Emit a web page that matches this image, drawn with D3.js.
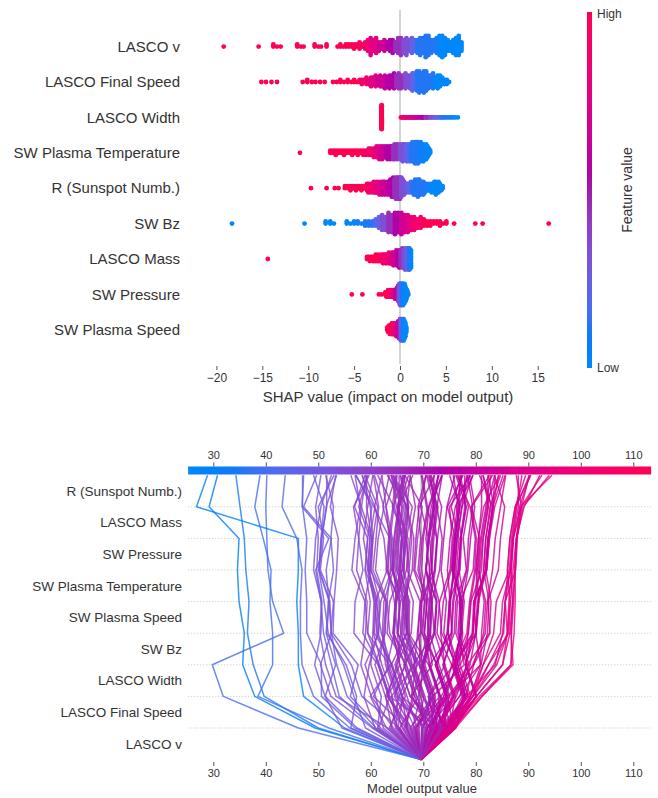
<!DOCTYPE html>
<html><head><meta charset="utf-8">
<script src="https://cdn.jsdelivr.net/npm/d3@7"></script>
<style>
body{margin:0;background:#fff}
svg{display:block}
text{font-family:"Liberation Sans",Arial,sans-serif;fill:#333}
</style>
</head><body>
<svg id="chart" width="658" height="798"></svg>
<script>
// ---------------- DATA: summary (beeswarm) plot ----------------
// each feature: SHAP value, number of dots at that value, feature-value level (0 = low ... 9 = high)
const summaryFeatures = ["LASCO v","LASCO Final Speed","LASCO Width","SW Plasma Temperature","R (Sunspot Numb.)","SW Bz","LASCO Mass","SW Pressure","SW Plasma Speed"];
const summaryTicks = [-20,-15,-10,-5,0,5,10,15];

const shapLascoV = [-19.2,-15.4,-13.8,-13.4,-13.0,-11.2,-10.8,-10.5,-9.3,-8.9,-8.6,-8.0,-6.8,-6.5,-6.2,-5.9,-5.6,
 -5.3,-5.0,-4.7,-4.4,-4.1,-3.8,-3.5,-3.2,-2.9,-2.6,-2.3,-2.0,-1.7,-1.4,-1.1,-0.8,-0.5,-0.2,0.1,0.4,0.7,1.0,1.3,1.6,1.9,2.2,2.5,2.8,3.1,3.4,3.7,4.0,4.3,4.6,4.9,5.2,5.5,5.8,6.1,6.4,6.7];
const countLascoV = [1,1,2,1,1,2,1,1,2,1,1,2,1,2,1,2,2,
 2,3,2,4,2,4,6,9,6,8,5,4,6,4,6,7,5,8,9,7,9,6,8,6,7,9,8,11,10,7,6,8,10,11,9,6,5,7,9,10,5];
const featLascoV = [9,9,9,9,9,9,9,9,9,9,9,9,9,9,9,9,9,
 9,9,8,9,8,8,8,7,7,7,6,6,6,5,5,5,4,4,4,3,3,3,2,2,1,1,1,1,1,1,1,1,0,0,0,0,0,0,0,0,0];

const shapFinalSpeed = [-15.1,-14.6,-14.0,-13.4,-10.6,-10.1,-9.6,-9.2,-8.7,-8.2,-7.3,-6.9,-6.5,-6.1,-5.7,-5.3,-5.0,-4.7,-4.4,
 -4.15,-3.9,-3.65,-3.4,-3.15,-2.9,-2.65,-2.4,-2.15,-1.9,-1.65,-1.4,-1.15,-0.9,-0.65,-0.4,-0.15,0.1,0.35,0.6,
 0.85,1.1,1.35,1.6,1.85,2.1,2.35,2.6,2.85,3.1,3.35,3.6,3.85,4.1,4.35,4.6,4.85,5.1,5.35];
const countFinalSpeed = [1,1,1,1,1,2,1,1,1,1,1,1,2,1,2,1,2,1,2,
 3,2,4,3,5,4,6,4,6,5,7,5,7,6,8,6,8,7,6,8,
 6,7,9,8,10,11,9,11,10,7,6,8,5,7,6,4,3,3,1];
const featFinalSpeed = [9,9,9,9,9,9,9,9,9,9,9,9,9,9,9,9,9,9,9,
 8,8,8,7,7,7,7,6,6,6,6,5,5,5,5,4,4,4,4,3,
 3,3,2,2,1,1,1,1,1,1,1,1,0,0,0,0,0,0,0];

const shapLascoWidth = [-2.0,
 0.1,0.2,0.3,0.4,0.5,0.6,0.7,0.8,0.9,1.0,1.1,1.2,1.3,1.4,1.5,1.6,1.7,1.8,1.9,2.0,
 2.2,2.3,2.4,2.5,2.6,2.8,2.9,3.0,3.1,3.3,3.4,3.5,3.7,3.8,3.9,4.1,4.2,4.4,4.5,4.7,4.8,5.0,5.2,5.4,5.6,5.8,6.0,6.3];
const countLascoWidth = [50,
 1,1,1,1,1,1,1,1,1,1,1,1,1,1,1,1,1,1,1,1,
 1,1,1,1,1,1,1,1,1,1,1,1,1,1,1,1,1,1,1,1,1,1,1,1,1,1,1,1];
const featLascoWidth = [9,
 8,8,8,8,7,8,7,7,7,7,7,7,7,6,7,6,6,6,6,6,
 5,5,5,5,5,4,4,4,4,3,3,3,3,2,2,2,2,2,1,1,1,1,1,0,1,0,0,0];

const shapPlasmaTemp = [-10.9,-7.6,-7.3,-7.0,-6.7,-6.4,-6.1,-5.8,-5.5,-5.2,-4.9,-4.6,-4.3,-4.0,-3.7,-3.4,
 -3.15,-3.0,-2.85,-2.7,-2.55,-2.4,-2.25,-2.1,-1.95,-1.8,-1.65,-1.5,-1.35,-1.2,-1.05,-0.9,-0.75,-0.6,-0.45,-0.3,
 -0.15,0,0.15,0.3,0.45,0.6,0.75,0.9,1.05,1.2,1.35,1.5,1.65,1.8,1.95,2.1,2.25,2.4,2.55,2.7,2.85,3.0,3.15,3.3];
const countPlasmaTemp = [1,2,2,3,2,2,3,2,2,3,2,3,2,3,3,4,
 4,3,5,4,6,5,7,5,7,5,6,5,7,5,7,6,7,8,6,8,
 6,8,7,9,8,7,9,7,9,8,10,9,11,10,11,9,10,8,9,7,8,6,4,2];
const featPlasmaTemp = [9,9,9,9,9,9,9,9,9,9,9,9,9,9,8,8,
 8,8,8,7,7,7,7,6,6,6,6,5,5,5,5,5,4,4,4,4,
 4,3,3,3,3,2,2,2,2,1,1,1,1,1,1,1,0,1,0,1,0,0,0,0];

const shapSunspot = [-9.7,-8.0,-7.1,-6.7,-6.0,-5.7,-5.4,-5.1,-4.8,-4.5,-4.2,-3.9,
 -3.6,-3.45,-3.3,-3.15,-3.0,-2.85,-2.7,-2.55,-2.4,-2.25,-2.1,-1.95,-1.8,-1.65,-1.5,-1.35,-1.2,-1.05,-0.9,-0.75,
 -0.6,-0.45,-0.3,-0.15,0,0.15,0.3,0.45,0.6,0.75,0.9,1.05,1.2,1.35,1.5,1.65,1.8,1.95,2.1,2.25,
 2.4,2.55,2.7,2.85,3.0,3.15,3.3,3.45,3.6,3.75,3.9,4.05,4.2,4.35,4.5,4.65];
const countSunspot = [1,1,1,1,2,2,3,2,3,2,3,2,
 4,5,3,5,4,6,5,6,5,7,5,7,6,7,5,7,6,8,9,10,
 9,11,10,11,11,10,8,7,5,4,5,4,6,5,7,8,7,9,8,7,
 6,7,5,4,3,4,3,5,4,6,7,5,6,4,3,2];
const featSunspot = [9,9,9,9,9,9,9,9,9,9,9,9,
 9,8,8,8,8,8,7,7,7,7,7,6,6,6,6,6,5,5,5,5,
 4,4,4,4,4,3,3,3,3,2,2,2,2,1,1,1,1,1,1,1,
 1,1,1,1,0,1,0,0,0,0,0,0,0,0,0,0];

const shapBz = [-18.3,-10.4,-8.1,-7.6,-7.2,-5.8,-5.4,-5.0,-4.6,-4.2,-3.8,-3.4,
 -3.0,-2.65,-2.3,-1.95,-1.6,-1.25,-0.9,-0.55,-0.2,0.15,0.5,0.85,1.2,1.55,1.9,2.25,2.6,2.95,3.3,3.65,4.0,4.35,4.7,5.05,
 5.9,8.2,9.0,16.2];
const countBz = [1,1,2,2,1,2,1,2,2,1,3,3,
 3,4,6,8,7,10,9,11,10,11,9,9,7,7,5,6,4,3,3,2,2,3,1,2,
 1,1,1,1];
const featBz = [0,0,0,0,0,0,0,0,1,0,1,1,
 1,2,2,3,3,4,4,5,5,6,6,7,7,8,8,8,9,9,9,9,9,9,9,9,
 9,9,9,9];

const shapLascoMass = [-14.4,
 -3.6,-3.44,-3.28,-3.12,-2.96,-2.8,-2.64,-2.48,-2.32,-2.16,-2.0,-1.84,-1.68,-1.52,-1.36,-1.2,-1.04,-0.88,-0.72,-0.56,
 -0.4,-0.24,-0.08,0.08,0.24,0.4,0.56,0.72,0.88,1.04,1.2];
const countLascoMass = [1,
 2,2,3,2,3,3,4,3,4,3,4,5,4,5,4,6,5,6,7,6,
 8,7,9,8,10,9,11,10,11,11,9];
const featLascoMass = [9,
 9,9,9,9,9,9,9,9,9,9,8,8,8,8,8,7,7,7,6,6,
 6,5,5,4,4,3,3,2,2,1,0];

const shapPressure = [-5.25,-4.1,-2.3,-2.0,-1.6,-1.5,-1.4,-1.3,-1.2,-1.1,-1.0,-0.9,-0.8,
 -0.7,-0.63,-0.56,-0.49,-0.42,-0.35,-0.28,-0.21,-0.14,-0.07,0,0.07,0.14,0.21,0.28,0.35,0.42,0.49,0.56,0.63,0.7,0.77,0.84,0.91];
const countPressure = [1,1,1,1,2,3,3,4,3,4,3,4,3,
 4,3,5,4,5,6,6,8,8,10,11,10,11,11,10,11,9,10,8,7,5,4,2,1];
const featPressure = [9,9,9,9,9,9,9,9,9,8,8,8,8,
 7,7,7,6,6,5,5,4,4,3,3,2,2,1,1,1,1,0,0,0,0,0,0,0];

const shapPlasmaSpeed = [-1.4,-1.3,-1.2,-1.1,-1.0,-0.9,-0.8,-0.7,-0.6,-0.5,-0.4,-0.3,-0.2,-0.1,0,0.1,0.2,0.3,0.4,0.5,0.6,0.7];
const countPlasmaSpeed = [2,3,4,5,4,6,5,6,5,6,7,6,8,9,10,11,10,11,11,9,7,3];
const featPlasmaSpeed = [9,9,9,9,9,9,8,8,8,7,7,6,6,5,4,3,2,1,1,0,0,0];

// ---------------- DATA: decision plot (features bottom to top) ----------------
const decisionFeatures = ["LASCO v","LASCO Final Speed","LASCO Width","SW Bz","SW Plasma Speed","SW Plasma Temperature","SW Pressure","LASCO Mass","R (Sunspot Numb.)"];
const decisionBase = 69.6;
const decisionTicks = [30,40,50,60,70,80,90,100,110];
const decisionXlim = [25.2,113.4];

const decV = [-23.4,-14.6,-20.2,-19.6,-13.6,-17.6,-12.6,-9.1,-8.6,
 -12.2,-9.3,-15.1,-6.4,-4.2,-10.6,-7.7,-13.4,-5.3,-2.8,
 2.2,-8.1,-2.3,-6.6,0.8,-4.4,3.1,-8.8,-1.2,-5.6,
 1.3,-3.2,3.8,-1.9,2.6,-4.7,0.4,-1.6,2.9,-6.1,
 1.7,-2.6,5.1,-0.4,2.1,-3.6,1.8,-0.9,4.2,3.3,
 -2.9,1.1,4.8,-2.1,2.4,5.9,0.2,-4.1,3.6,0.9,
 -1.4,4.6,2.3,-0.6,5.2,2.8,6.1,1.2,3.9,2.7,
 5.4,3.2,0.1,6.4,1.9,4.4,-1.1,3.4,4.9,2.2,
 5.8,1.6,4.1,3.1,5.3,6.2,3.8,6.6,2.9,5.6,
 2.1,5.9,4.6,5.1,3.7,6.3,2.4,4.9,4.2,6.0,
 3.1,5.5,6.1,6.5,5.6,5.9,5.0,6.4,4.5,6.2,
 5.4,3.5,6.6,5.2,
 -3.4,0.6,-5.8,2.4,-7.2,1.1,-1.9,3.7,-4.9,0.2,-2.7,4.1,-8.3,-0.8,1.9,-4.4];
const decFS = [-14.3,-7.8,-11.5,-10.3,-6.9,-13.5,-6.4,-6.5,-5.5,
 -6.1,-7.9,-3.2,-9.8,-7.1,-2.2,-5.8,1.1,-4.2,-6.3,
 -8.2,2.1,-3.9,-3.1,-5.2,0.9,-6.8,-2.1,-2.9,-1.2,
 -2.1,1.9,-5.9,-3.2,0.8,0.2,-4.1,1.4,-2.6,3.1,
 -3.6,-1.1,-4.9,2.2,-1.4,-2.1,0.9,3.2,-1.8,2.1,
 1.2,3.9,-3.1,4.4,-0.9,-2.2,1.8,3.6,1.4,-2.1,
 4.9,0.1,-4.2,1.1,3.2,3.9,-1.1,5.1,2.2,3.4,
 1.1,-1.9,4.6,2.1,2.4,4.1,5.4,0.2,2.9,1.6,
 2.6,3.1,4.9,-0.9,4.1,3.2,5.1,1.4,4.4,5.0,
 2.9,2.2,3.9,5.4,2.1,4.2,4.9,3.6,1.1,4.4,
 3.2,2.6,5.4,5.1,5.5,4.6,4.9,4.1,5.3,3.6,
 4.4,5.1,2.7,4.1,
 -2.8,-5.4,1.6,-3.3,-1.5,-1.2,-4.6,-2.1,-0.6,1.4,-3.7,-6.2,0.7,-1.9,0.4,-2.4];
const decW = [-2.1,-1.0,-2.3,-2.1,-2.2,2.8,0,-1.5,-2.0,
 -2,-2,2,-2,-2,-2,1.5,-2,-2,3,
 -2,-2,-2,4,-2,-2,-2,1,-2,-2,
 -2,-2,-2,2,-2,-2,3,-2,-2,-2,
 1,-2,-2,-2,-2,4.5,-2,-2,-2,-2,
 2,-2,-2,-2,3,-2,-2,1,-2,-2,
 -2,2,4,-2,-2,2,-2,-2,3,-2,
 -2,5,-2,-2,1.5,-2,2.5,-2,-2,3.5,
 -2,-2,-2,6,-2,2,-2,-2,4,-2,
 5,-2,1.5,-2,3,-2,2,-2,6,-2,
 3.5,-2,6,5.5,6,5,4.5,5,3,2,
 4,5.5,3.5,2.5,
 -2,-2,2.4,-2,-2,-2,3.6,-2,-2,-2,1.8,-2,-2,-2,-2,2.7];
const decBz = [13.6,0,0.3,-1.1,-0.3,0,-2.8,-1.5,-1.0,
 1.2,2.1,-1.8,-1.1,-3.9,-2.9,-4.8,-3.7,0.9,-4.1,
 -2.2,-3.1,-4.6,-1.9,-0.8,-3.4,-2.8,1.6,-2.1,1.9,
 -0.9,1.1,-1.2,-2.1,-3.8,1.4,-1.9,-3.1,-1.1,2.2,
 -2.4,2.9,-2.1,-3.3,0.6,-1.4,1.1,-0.9,2.1,-1.8,
 1.4,-2.9,0.1,1.2,-1.9,-1.1,2.6,0.8,-2.4,3.1,
 -1.2,-2.8,-0.9,3.9,1.1,-2.1,1.9,1.6,-1.9,2.2,
 -0.8,1.2,3.1,-2.2,1.9,-1.4,0.9,4.1,-2.8,0.6,
 1.1,2.4,-1.9,-1.2,2.9,1.2,2.1,3.8,-0.9,1.1,
 1.9,2.6,3.1,0.4,4.2,1.4,1.1,3.4,0.2,2.1,
 2.4,4.4,-0.4,0.6,0.1,0.9,2.1,1.4,2.9,3.3,
 2.6,1.4,3.9,2.0,
 1.3,-0.6,-2.7,-3.6,2.6,-2.3,-3.1,1.7,-1.6,-4.2,0.7,-1.3,0.4,2.8,-2.9,-0.4];
const decPS = [-2.1,-0.3,-1.0,0.3,0,-0.5,0,-0.5,-0.5,
 0.2,-0.3,0.4,0.3,0.5,-0.8,0.2,0.5,0.3,0.5,
 -0.5,0.4,0.2,-1,0.5,0.4,0.3,-0.6,0.5,0.2,
 0.4,-0.5,0.3,0.5,0.2,0.4,-0.4,0.5,0.3,0.4,
 0.5,-0.8,0.4,0.2,0.5,-0.3,0.3,0.5,-0.5,0.4,
 0.2,0.5,0.3,-0.6,0.4,0.5,0.3,0.4,0.5,0.2,
 0.4,-0.5,0.3,0.5,0.4,0.3,0.5,-0.5,0.4,0.3,
 0.5,0.2,0.4,0.5,-0.3,0.4,0.5,0.3,0.5,-0.7,
 0.4,0.5,0.2,0.4,0.4,0.3,0.5,0.4,0.5,0.3,
 0.4,0.5,-0.4,0.5,0.3,0.4,0.5,0.3,0.5,-0.5,
 0.4,0.5,0.3,0.2,0.4,0.3,0.4,0.5,0.3,0.4,
 -0.4,0.5,0.3,0.5,
 0.4,0.3,-0.6,0.5,0.2,0.4,-0.5,0.3,0.4,0.5,-0.4,0.5,0.2,0.4,-0.7,0.5];
const decT = [-0.9,0.3,-0.3,-0.6,0.3,0.2,-0.3,-1.0,-0.5,
 -1,-2,1,-1.5,-2.5,-1,0.5,-2,-2,-1,
 1,-2.5,1.5,-2,-3,-1.5,-2,-1,2,-2.5,
 -1,-2,1,-0.5,-2,1.5,-2.5,2,-1.5,-1,
 0.5,-2,-1,1,-2.5,-1,-0.5,1,-1,1.5,
 -1,-2,2,-1.5,-1,-1,-2,1,0.5,2.5,
 -1,-1.5,1,-2,1,-1,2,1,-1.5,2,
 1.5,-1,1,-1,2.5,-0.5,-1,1,2,1.5,
 -2,0.5,1,-1,1.5,-1,2,1,1,2.5,
 -1.5,1,2,1,-1,2,1.5,0.5,-1,2.5,
 1,-0.5,-0.3,0,0.2,0.5,-0.5,0.5,1,1.5,
 0.5,2,0.5,2.5,
 -2.2,1.8,-1.2,2.4,-1.6,-1.4,0.6,-2.8,2.2,-0.8,-2.1,1.3,-1.1,-1.9,1.6,-2.7];
const decP = [-0.2,0,0.3,-0.3,-1.0,-1.5,0.3,2.5,1.0,
 0.3,0.5,-0.5,0.4,0.6,0.4,0.3,0.5,0.4,0.5,
 0.3,0.6,-0.8,0.4,0.5,-1,0.4,0.5,-0.3,0.6,
 0.5,0.4,0.3,0.6,0.5,-0.2,0.4,0.3,0.5,0.5,
 -0.6,0.4,0.3,0.5,0.6,0.3,0.4,0.5,0.3,0.5,
 0.6,0.4,-0.5,0.5,0.4,0.3,0.5,0.4,-0.7,0.4,
 0.5,0.3,0.5,0.6,0.5,0.4,0.3,0.5,0.4,-0.6,
 0.4,0.5,0.3,0.5,0.4,0.5,0.3,0.6,0.4,0.3,
 0.5,0.4,0.5,0.3,0.5,0.4,0.3,0.6,0.4,0.5,
 0.5,0.3,0.4,0.5,0.4,0.5,0.6,0.4,0.5,0.3,
 0.5,0.4,0.4,0.3,0.3,0.4,0.5,0.3,0.4,0.5,
 0.4,0.3,0.6,0.4,
 0.5,-0.4,0.4,0.5,0.3,0.6,0.4,0.5,-0.6,0.4,0.3,0.5,0.4,0.6,0.3,0.5];
const decM = [-0.2,-19.4,-5.7,-0.8,-2.8,-1.6,-0.8,-5.1,-5.3,
 -0.5,0.8,0.5,1,-1,0.6,-1.5,1,-1,0.8,
 -2,1,0.5,-2.5,-0.5,0.8,1,-1,-3,0.5,
 0.8,1,-1,0.5,-0.8,0.6,0.9,-2,1,0.5,
 -1.5,0.8,0.6,-1,1,-1.5,0.8,0.5,1,-1,
 0.9,0.6,1,-0.5,0.8,1,-1.5,0.8,0.6,-2,
 1,0.8,-0.8,1,0.8,1,-1,0.9,0.6,1,
 0.8,-1.5,1,0.6,-1,1,0.8,1,-0.5,0.8,
 1,-1.5,0.9,0.6,1,0.8,1,0.9,1,0.6,
 1,-1,0.8,1,0.9,1,1,-1.5,1,0.8,
 1,0.6,1.5,1.2,1.5,1.3,1,0.5,0.8,1,
 1,0.8,1,0.9,
 1.1,-1.6,0.7,-2.4,0.9,0.6,-1.2,0.9,-1.8,0.8,-0.6,0.7,-2.2,1.1,-1.3,0.8];
const decR = [0.2,2.1,1.6,-0.8,0.6,1.0,0,0.3,2.5,
 1,2,-1.5,2,3,-2,1,0,3,-3,
 1,-1,-2,2,-1.5,1,-2.5,0,-3.5,-1,
 -1,-2,-1,1,1.5,-2.5,0,1,-4,-1.5,
 2,1,-2,-3,-1,0.5,-1,2,1,-1.5,
 0,3,-1,1.5,-2,2,1,-2,2.5,-1,
 -1,1,1,-1.5,-1,0,1,2,-1,-2,
 3,2,-1,1.5,-2.5,2.5,0,-2,4,-1,
 -2,3,1,2,1,2,-1,0,-1.5,2,
 1,3.5,-2,3,0.5,-1,2,4,1.5,-2.5,
 1,0,4,5,3,6,2,2,1,0,
 3,-1,1.5,2.5,
 -1.8,1.2,-3.1,0.8,-2.4,2.6,-0.8,-3.3,1.4,-2.6,1.9,-0.9,1.7,-3.7,0.6,2.2];

// ---------------- RENDER ----------------
const svg = d3.select("#chart");
const FONT = '"Liberation Sans",Arial,sans-serif';

// SHAP red_blue colormap (LCh interpolation, lightness dips to 40 in the middle)
function shapColor(t){
  t = Math.max(0, Math.min(1, t));
  const h = 266.93 + t * (380.32 - 266.93);
  const c = 70 + 20 * t;
  const l = t < 0.5 ? 54 - 28 * t : 40 + 28 * (t - 0.5);
  return d3.hcl(h, c, l).formatHex();
}

const defs = svg.append("defs");
function makeGradient(id, vertical){
  const g = defs.append("linearGradient").attr("id", id)
    .attr("x1", 0).attr("y1", vertical ? 1 : 0).attr("x2", vertical ? 0 : 1).attr("y2", 0);
  d3.range(0, 1.0001, 0.05).forEach(t => g.append("stop").attr("offset", t).attr("stop-color", shapColor(t)));
}
makeGradient("cbV", true);
makeGradient("cbH", false);

// ---------- top: beeswarm summary ----------
const summaryShap = [shapLascoV, shapFinalSpeed, shapLascoWidth, shapPlasmaTemp, shapSunspot, shapBz, shapLascoMass, shapPressure, shapPlasmaSpeed];
const summaryCount = [countLascoV, countFinalSpeed, countLascoWidth, countPlasmaTemp, countSunspot, countBz, countLascoMass, countPressure, countPlasmaSpeed];
const summaryFeat = [featLascoV, featFinalSpeed, featLascoWidth, featPlasmaTemp, featSunspot, featBz, featLascoMass, featPressure, featPlasmaSpeed];

const xTop = d3.scaleLinear().domain([-20, 15]).range([216.4, 537.7]);
const rowStep = 35.4;
const rowY = i => 46.6 + rowStep * i;

svg.append("line").attr("x1", xTop(0)).attr("x2", xTop(0)).attr("y1", 10).attr("y2", 364)
  .attr("stroke", "#aaa").attr("stroke-width", 1);

function expand(vals, counts, levels){
  const pts = [];
  vals.forEach((v, i) => { for (let k = 0; k < counts[i]; k++) pts.push({v: v, f: levels[i]}); });
  return pts;
}
// SHAP beeswarm layout: bin into 100 bins, stack alternately up/down, scale to row height
function swarmOffsets(vals){
  const n = vals.length, nb = 100, mn = d3.min(vals), mx = d3.max(vals);
  const q = vals.map(v => Math.round(nb * (v - mn) / (mx - mn + 1e-8)));
  const ord = d3.range(n).sort((a, b) => q[a] - q[b] || a - b);
  const ys = new Array(n).fill(0);
  let layer = 0, last = -1;
  ord.forEach(i => {
    if (q[i] !== last) layer = 0;
    ys[i] = Math.ceil(layer / 2) * ((layer % 2) * 2 - 1);
    layer++; last = q[i];
  });
  const m = d3.max(ys) + 1;
  return ys.map(y => y * 0.9 * 0.4 / m);
}

summaryFeatures.forEach((name, i) => {
  const pts = expand(summaryShap[i], summaryCount[i], summaryFeat[i]);
  const off = swarmOffsets(pts.map(p => p.v));
  svg.append("g").selectAll("circle").data(pts).join("circle")
    .attr("cx", d => xTop(d.v))
    .attr("cy", (d, j) => rowY(i) - off[j] * rowStep)
    .attr("r", 2.4)
    .attr("fill", d => shapColor(d.f / 9));
  svg.append("text").attr("x", 180).attr("y", rowY(i)).attr("dy", "0.35em")
    .attr("text-anchor", "end").style("font-size", "15px").text(name);
});

const axT = svg.append("g").attr("transform", "translate(0,366)")
  .call(d3.axisBottom(xTop).tickValues(summaryTicks).tickSize(4).tickPadding(3).tickFormat(d3.format("d")));
axT.select(".domain").remove();
axT.selectAll(".tick line").attr("stroke", "#555");
axT.selectAll(".tick text").style("font-size", "12px").style("font-family", FONT).style("fill", "#333");

svg.append("text").attr("x", 388).attr("y", 402).attr("text-anchor", "middle")
  .style("font-size", "15px").text("SHAP value (impact on model output)");

// colorbar (feature value)
svg.append("rect").attr("x", 587).attr("y", 12).attr("width", 5).attr("height", 356).attr("fill", "url(#cbV)");
svg.append("text").attr("x", 597).attr("y", 14).attr("dy", "0.35em").style("font-size", "12px").text("High");
svg.append("text").attr("x", 597).attr("y", 368).attr("dy", "0.35em").style("font-size", "12px").text("Low");
svg.append("text").attr("transform", "translate(627,190) rotate(-90)").attr("text-anchor", "middle")
  .attr("dy", "0.35em").style("font-size", "14px").text("Feature value");

// ---------- bottom: decision plot ----------
const xBot = d3.scaleLinear().domain([30, 110]).range([213.3, 633.3]);
const yv = i => 759.6 - 31.6 * i;
const x0 = xBot(decisionXlim[0]), x1 = xBot(decisionXlim[1]);

for (let i = 1; i <= 8; i++) {
  svg.append("line").attr("x1", x0).attr("x2", x1).attr("y1", yv(i)).attr("y2", yv(i))
    .attr("stroke", "#cfcfcf").attr("stroke-width", 1).attr("stroke-dasharray", "1.2,1.8");
}
// base value line
svg.append("line").attr("x1", xBot(decisionBase)).attr("x2", xBot(decisionBase))
  .attr("y1", yv(0)).attr("y2", yv(9)).attr("stroke", "#999").attr("stroke-width", 1);

decisionFeatures.forEach((name, k) => {
  svg.append("text").attr("x", 182).attr("y", yv(k) - 15.8).attr("dy", "0.35em")
    .attr("text-anchor", "end").style("font-size", "13.5px").text(name);
});

const decCols = [decV, decFS, decW, decBz, decPS, decT, decP, decM, decR];
const nLines = d3.min(decCols, c => c.length);
const cNorm = d3.scaleLinear().domain(decisionXlim).range([0, 1]);
const lineGen = d3.line().x(d => xBot(d[1])).y(d => yv(d[0]));
const gLines = svg.append("g");
for (let s = 0; s < nLines; s++) {
  let cum = decisionBase;
  const pts = [[0, cum]];
  decCols.forEach((col, k) => { cum += col[s]; pts.push([k + 1, cum]); });
  gLines.append("path").attr("d", lineGen(pts)).attr("fill", "none")
    .attr("stroke", shapColor(cNorm(cum))).attr("stroke-width", 1.5).attr("stroke-opacity", 0.8)
    .attr("stroke-linejoin", "round");
}

// top colorbar with axis
svg.append("rect").attr("x", x0).attr("y", 466.5).attr("width", x1 - x0).attr("height", 8).attr("fill", "url(#cbH)");
const axTop = svg.append("g").attr("transform", "translate(0,466.5)")
  .call(d3.axisTop(xBot).tickValues(decisionTicks).tickSize(4).tickPadding(4).tickFormat(d3.format("d")));
axTop.select(".domain").remove();
axTop.selectAll(".tick line").attr("stroke", "#555");
axTop.selectAll(".tick text").style("font-size", "11px").style("font-family", FONT).style("fill", "#333");

const axBot = svg.append("g").attr("transform", "translate(0,762)")
  .call(d3.axisBottom(xBot).tickValues(decisionTicks).tickSize(4).tickPadding(3).tickFormat(d3.format("d")));
axBot.select(".domain").remove();
axBot.selectAll(".tick line").attr("stroke", "#555");
axBot.selectAll(".tick text").style("font-size", "11px").style("font-family", FONT).style("fill", "#333");

svg.append("text").attr("x", 422).attr("y", 793).attr("text-anchor", "middle")
  .style("font-size", "13px").text("Model output value");
</script>
</body></html>
